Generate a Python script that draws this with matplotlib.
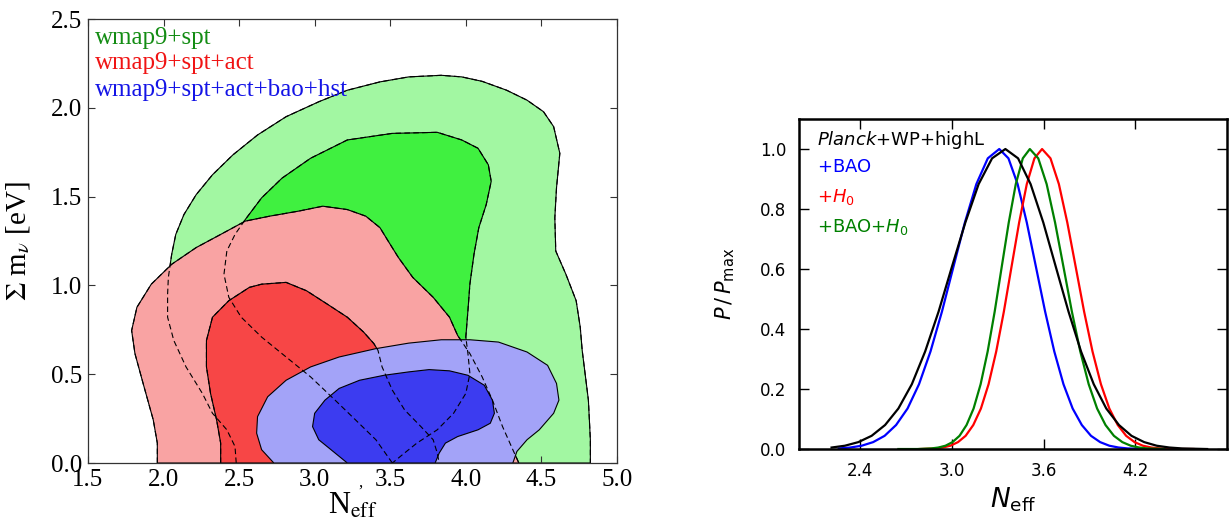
import matplotlib
matplotlib.use("Agg")
import matplotlib.pyplot as plt
from matplotlib.ticker import MultipleLocator, FormatStrFormatter

# ---- left panel: 68/95% regions in the (N_eff, sum m_nu) plane
# wmap9+spt
g_out_x = [2.481, 2.473, 2.419, 2.324, 2.257, 2.149, 2.068, 2.027, 2.027, 2.032, 2.054, 2.081,
           2.135, 2.216, 2.324, 2.459, 2.622, 2.811, 3.027, 3.216, 3.432, 3.622, 3.838, 3.973,
           4.108, 4.270, 4.405, 4.514, 4.581, 4.622, 4.600, 4.589, 4.595, 4.662, 4.730, 4.757,
           4.770, 4.811, 4.824, 4.824]
g_out_y = [0.0, 0.093, 0.187, 0.280, 0.392, 0.541, 0.690, 0.821, 0.951, 1.045, 1.175, 1.287,
           1.399, 1.511, 1.623, 1.735, 1.847, 1.950, 2.034, 2.099, 2.146, 2.174, 2.183, 2.174,
           2.149, 2.099, 2.043, 1.978, 1.894, 1.744, 1.549, 1.381, 1.194, 1.063, 0.914, 0.765,
           0.634, 0.354, 0.131, 0.0]
g_in_x = [3.514, 3.405, 3.270, 3.135, 2.973, 2.811, 2.649, 2.514, 2.432, 2.400, 2.419, 2.473,
          2.541, 2.649, 2.784, 2.973, 3.216, 3.514, 3.811, 3.973, 4.081, 4.149, 4.168, 4.135,
          4.086, 4.054, 4.027, 4.014, 4.000, 4.014, 4.027, 4.000, 3.919, 3.811, 3.676, 3.581, 3.514]
g_in_y = [0.0, 0.131, 0.243, 0.354, 0.485, 0.597, 0.709, 0.821, 0.933, 1.063, 1.194, 1.287,
          1.371, 1.493, 1.604, 1.716, 1.819, 1.856, 1.862, 1.819, 1.772, 1.679, 1.586, 1.455,
          1.325, 1.175, 1.007, 0.858, 0.709, 0.616, 0.504, 0.392, 0.280, 0.187, 0.112, 0.047, 0.0]
# wmap9+spt+act
r_out_x = [1.959, 1.959, 1.932, 1.865, 1.811, 1.789, 1.824, 1.919, 2.054, 2.216, 2.378, 2.541,
           2.703, 2.892, 3.054, 3.216, 3.338, 3.432, 3.486, 3.554, 3.649, 3.784, 3.892, 3.946,
           4.027, 4.108, 4.176, 4.243, 4.311, 4.351]
r_out_y = [0.0, 0.112, 0.243, 0.448, 0.616, 0.746, 0.877, 1.007, 1.119, 1.213, 1.287, 1.362,
           1.390, 1.418, 1.446, 1.427, 1.390, 1.325, 1.250, 1.157, 1.045, 0.933, 0.821, 0.718,
           0.616, 0.485, 0.354, 0.205, 0.075, 0.0]
r_in_x = [2.378, 2.378, 2.351, 2.311, 2.284, 2.284, 2.324, 2.432, 2.568, 2.649, 2.811, 2.946,
          3.081, 3.216, 3.324, 3.392, 3.419, 3.446, 3.514, 3.595, 3.703, 3.784, 3.811, 3.824]
r_in_y = [0.0, 0.112, 0.243, 0.392, 0.541, 0.690, 0.821, 0.914, 0.989, 1.007, 1.017, 0.970,
          0.896, 0.821, 0.737, 0.672, 0.634, 0.541, 0.410, 0.299, 0.205, 0.131, 0.056, 0.0]
# wmap9+spt+act+bao+hst
b_out_x = [2.730, 2.649, 2.616, 2.622, 2.689, 2.811, 2.973, 3.162, 3.405, 3.622, 3.838, 4.027,
           4.216, 4.405, 4.541, 4.600, 4.616, 4.581, 4.486, 4.405, 4.338, 4.311]
b_out_y = [0.0, 0.075, 0.168, 0.261, 0.373, 0.466, 0.541, 0.597, 0.644, 0.675, 0.694, 0.694,
           0.681, 0.625, 0.550, 0.448, 0.354, 0.280, 0.187, 0.131, 0.065, 0.0]
b_in_x = [3.216, 3.108, 3.027, 2.986, 3.000, 3.068, 3.162, 3.297, 3.459, 3.622, 3.757, 3.892,
          4.014, 4.122, 4.176, 4.189, 4.162, 4.081, 3.946, 3.865, 3.824, 3.797]
b_in_y = [0.0, 0.075, 0.131, 0.205, 0.280, 0.354, 0.420, 0.466, 0.494, 0.513, 0.526, 0.519,
          0.494, 0.438, 0.354, 0.280, 0.224, 0.187, 0.149, 0.112, 0.056, 0.0]

left_labels = ["wmap9+spt", "wmap9+spt+act", "wmap9+spt+act+bao+hst"]

# ---- right panel: 1D posteriors P/Pmax vs N_eff
blk_x = [2.213, 2.300, 2.388, 2.475, 2.563, 2.650, 2.738, 2.825, 2.913, 3.000, 3.088, 3.175,
         3.263, 3.350, 3.433, 3.515, 3.598, 3.680, 3.763, 3.845, 3.928, 4.010, 4.093, 4.175,
         4.258, 4.340, 4.423, 4.505, 4.588, 4.670]
blk_y = [0.005, 0.011, 0.023, 0.044, 0.080, 0.135, 0.216, 0.325, 0.458, 0.607, 0.755, 0.883,
         0.969, 1.000, 0.969, 0.883, 0.755, 0.607, 0.458, 0.325, 0.216, 0.135, 0.080, 0.044,
         0.023, 0.011, 0.005, 0.002, 0.001, 0.000]
blu_x = [2.260, 2.335, 2.410, 2.485, 2.560, 2.635, 2.710, 2.785, 2.860, 2.935, 3.010, 3.085,
         3.160, 3.235, 3.310, 3.370, 3.430, 3.490, 3.550, 3.610, 3.670, 3.730, 3.790, 3.850,
         3.910, 3.970, 4.030, 4.090, 4.150, 4.210, 4.270]
blu_y = [0.002, 0.005, 0.011, 0.023, 0.044, 0.080, 0.135, 0.216, 0.325, 0.458, 0.607, 0.755,
         0.883, 0.969, 1.000, 0.969, 0.883, 0.755, 0.607, 0.458, 0.325, 0.216, 0.135, 0.080,
         0.044, 0.023, 0.011, 0.005, 0.002, 0.001, 0.000]
red_x = [2.790, 2.840, 2.890, 2.940, 2.990, 3.040, 3.090, 3.140, 3.190, 3.240, 3.290, 3.340,
         3.390, 3.440, 3.490, 3.540, 3.590, 3.645, 3.700, 3.755, 3.810, 3.865, 3.920, 3.975,
         4.030, 4.085, 4.140, 4.195, 4.250, 4.305, 4.360, 4.415, 4.470, 4.580]
red_y = [0.000, 0.001, 0.002, 0.005, 0.011, 0.023, 0.044, 0.080, 0.135, 0.216, 0.325, 0.458,
         0.607, 0.755, 0.883, 0.969, 1.000, 0.969, 0.883, 0.755, 0.607, 0.458, 0.325, 0.216,
         0.135, 0.080, 0.044, 0.023, 0.011, 0.005, 0.002, 0.001, 0.000, 0.000]
grn_x = [2.650, 2.774, 2.820, 2.866, 2.912, 2.958, 3.004, 3.050, 3.096, 3.142, 3.188, 3.234,
         3.280, 3.326, 3.372, 3.418, 3.464, 3.510, 3.565, 3.620, 3.675, 3.730, 3.785, 3.840,
         3.895, 3.950, 4.005, 4.060, 4.115, 4.170, 4.225, 4.280, 4.335, 4.390]
grn_y = [0.000, 0.000, 0.001, 0.002, 0.005, 0.011, 0.023, 0.044, 0.080, 0.135, 0.216, 0.325,
         0.458, 0.607, 0.755, 0.883, 0.969, 1.000, 0.969, 0.883, 0.755, 0.607, 0.458, 0.325,
         0.216, 0.135, 0.080, 0.044, 0.023, 0.011, 0.005, 0.002, 0.001, 0.000]

fig = plt.figure(figsize=(12.3, 5.22), dpi=100)
fig.patch.set_facecolor("white")

serif = "Liberation Serif"

# ------------------------------------------------------------ left panel
ax1 = fig.add_axes([0.0715, 0.1130, 0.4301, 0.8506])

ax1.fill(g_out_x, g_out_y, fc="#a2f7a2", ec="k", lw=0.8, zorder=1)
ax1.fill(g_in_x, g_in_y, fc="#40f040", ec="k", lw=0.8, zorder=2)
ax1.fill(r_out_x, r_out_y, fc="#f9a3a3", ec="k", lw=0.8, zorder=3)
ax1.fill(r_in_x, r_in_y, fc="#f74646", ec="k", lw=0.8, zorder=4)
ax1.fill(b_out_x, b_out_y, fc="#a3a3f8", ec="k", lw=0.8, zorder=5)
ax1.fill(b_in_x, b_in_y, fc="#3c3cf0", ec="k", lw=0.8, zorder=6)

# hidden boundaries of the earlier contours show through dashed
for xs, ys in [(g_out_x, g_out_y), (g_in_x, g_in_y), (r_out_x, r_out_y), (r_in_x, r_in_y)]:
    ax1.plot(xs, ys, color="k", lw=0.8, ls=(0, (5, 3)), zorder=7)

ax1.set_xlim(1.5, 5.0)
ax1.set_ylim(0.0, 2.5)
ax1.xaxis.set_major_locator(MultipleLocator(0.5))
ax1.yaxis.set_major_locator(MultipleLocator(0.5))
ax1.xaxis.set_major_formatter(FormatStrFormatter("%.1f"))
ax1.yaxis.set_major_formatter(FormatStrFormatter("%.1f"))
ax1.tick_params(direction="in", top=True, right=True, length=5, width=0.8,
                labelsize=18, pad=4, color="#333333")
for lab in ax1.get_xticklabels() + ax1.get_yticklabels():
    lab.set_family(serif)
for sp in ax1.spines.values():
    sp.set_linewidth(0.9)
    sp.set_color("#333333")
    sp.set_zorder(10)

ax1.set_xlabel(r"N$_{\rm eff}$", fontsize=22, family=serif, math_fontfamily="stix")
ax1.xaxis.set_label_coords(0.5, -0.065)
ax1.set_ylabel(r"$\Sigma$ m$_\nu$ [eV]", fontsize=21, family=serif, math_fontfamily="stix")
ax1.yaxis.set_label_coords(-0.105, 0.5)
ax1.text(0.515, -0.045, ",", transform=ax1.transAxes, fontsize=12, family=serif,
         ha="center", va="center")

for lab, col, yy in zip(left_labels, ["#138c13", "#f01414", "#1414e6"], [0.957, 0.901, 0.840]):
    ax1.text(0.013, yy, lab, color=col, fontsize=18, family=serif,
             transform=ax1.transAxes, ha="left", va="center", zorder=11)

# ------------------------------------------------------------ right panel
ax2 = fig.add_axes([0.6496, 0.1398, 0.3480, 0.6322])

ax2.plot(blu_x, blu_y, color="#0000ff", lw=1.6)
ax2.plot(red_x, red_y, color="#ff0000", lw=1.6)
ax2.plot(grn_x, grn_y, color="#008000", lw=1.6)
ax2.plot(blk_x, blk_y, color="black", lw=1.6)

ax2.set_xlim(2.0, 4.8)
ax2.set_ylim(0.0, 1.1)
ax2.set_xticks([2.4, 3.0, 3.6, 4.2])
ax2.set_yticks([0.0, 0.2, 0.4, 0.6, 0.8, 1.0])
ax2.xaxis.set_major_formatter(FormatStrFormatter("%.1f"))
ax2.yaxis.set_major_formatter(FormatStrFormatter("%.1f"))
ax2.tick_params(direction="in", top=True, right=True, length=7, width=1,
                labelsize=12, pad=9)
for sp in ax2.spines.values():
    sp.set_linewidth(1.8)

ax2.set_xlabel(r"$N_{\rm eff}$", fontsize=19)
ax2.xaxis.set_label_coords(0.5, -0.11)
ax2.set_ylabel(r"$P\,/\,P_{\rm max}$", fontsize=15)
ax2.yaxis.set_label_coords(-0.145, 0.5)

right_labels = [r"$\mathit{Planck}$+WP+highL", r"$+$BAO", r"$+H_0$", r"$+$BAO$+H_0$"]
for lab, col, yy in zip(right_labels, ["black", "#0000ff", "#ff0000", "#008000"],
                        [0.936, 0.855, 0.764, 0.673]):
    ax2.text(0.042, yy, lab, color=col, fontsize=13, transform=ax2.transAxes,
             ha="left", va="center")

plt.savefig("out.png", dpi=100)
plt.close(fig)
